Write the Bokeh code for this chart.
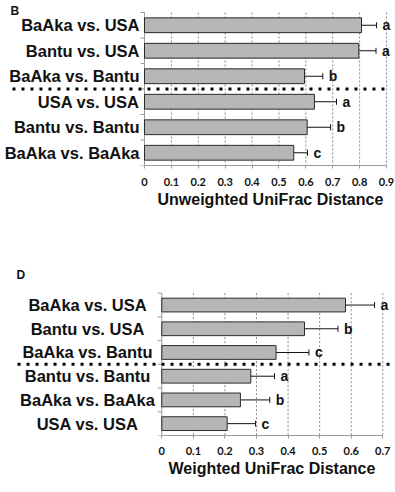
from bokeh.plotting import figure
from bokeh.layouts import column
from bokeh.models import Range1d, FixedTicker, Whisker, TeeHead, ColumnDataSource, Title
from bokeh.core.properties import value
from bokeh.embed import file_html
from bokeh.resources import INLINE

# ---- Panel B data ----
cats_b = ["BaAka vs. USA", "Bantu vs. USA", "BaAka vs. Bantu",
          "USA vs. USA", "Bantu vs. Bantu", "BaAka vs. BaAka"]
vals_b = [0.807, 0.797, 0.595, 0.632, 0.605, 0.555]
errs_b = [0.056, 0.064, 0.068, 0.082, 0.087, 0.051]
letters_b = ["a", "a", "b", "a", "b", "c"]
ticks_b = [0, 0.1, 0.2, 0.3, 0.4, 0.5, 0.6, 0.7, 0.8, 0.9]
tick_labels_b = ["0", "0.1", "0.2", "0.3", "0.4", "0.5", "0.6", "0.7", "0.8", "0.9"]
xlabel_b = "Unweighted UniFrac Distance"

# ---- Panel D data ----
cats_d = ["BaAka vs. USA", "Bantu vs. USA", "BaAka vs. Bantu",
          "Bantu vs. Bantu", "BaAka vs. BaAka", "USA vs. USA"]
vals_d = [0.582, 0.452, 0.362, 0.282, 0.249, 0.207]
errs_d = [0.092, 0.106, 0.104, 0.075, 0.093, 0.090]
letters_d = ["a", "b", "c", "a", "b", "c"]
ticks_d = [0, 0.1, 0.2, 0.3, 0.4, 0.5, 0.6, 0.7]
tick_labels_d = ["0", "0.1", "0.2", "0.3", "0.4", "0.5", "0.6", "0.7"]
xlabel_d = "Weighted UniFrac Distance"

n_between = 3  # first three rows: between-group comparisons

FONT = value("Liberation Sans")
TXT = "#111111"


def panel(tag, cats, vals, errs, letters, ticks, tick_labels, xlabel,
          height, xr, yr, b_top, b_bottom, px_per_unit, label_mode,
          label_x, dot_x0, dot_x1, tag_x, tag_y, tick_standoff, title_offset,
          title_standoff):
    n = len(cats)
    pos = [i + 0.5 for i in range(n)]
    hi = [v + e for v, e in zip(vals, errs)]
    src = ColumnDataSource(dict(y=pos, val=vals, hi=hi, lab=letters, cat=cats))

    p = figure(width=395, height=height, x_range=Range1d(*xr), y_range=Range1d(*yr),
               output_backend="svg", toolbar_location=None, y_axis_location=None,
               min_border_left=0, min_border_right=0,
               min_border_top=b_top, min_border_bottom=b_bottom)
    p.grid.visible = False
    p.outline_line_color = None
    p.background_fill_color = "white"
    p.border_fill_color = "white"

    # dashed vertical grid lines at tick positions
    gx = ticks[1:]
    p.segment(x0=gx, x1=gx, y0=[0] * len(gx), y1=[n] * len(gx),
              line_color="#8a8a8a", line_width=1, line_dash="2 2")

    # y axis line and tick marks between categories
    p.segment(x0=[0], x1=[0], y0=[0], y1=[n], line_color="#9a9a9a", line_width=1)
    tl = 4.0 / px_per_unit
    p.segment(x0=[-tl] * (n + 1), x1=[0] * (n + 1), y0=list(range(n + 1)),
              y1=list(range(n + 1)), line_color="#9a9a9a", line_width=1)

    # bars
    p.hbar(y="y", left=0, right="val", height=0.58, source=src,
           fill_color="#b6b6b6", line_color="#2a2a2a", line_width=1)

    # error bars
    p.add_layout(Whisker(source=src, base="y", lower="val", upper="hi",
                         dimension="width", line_color="#111111", line_width=1,
                         upper_head=TeeHead(size=6, line_color="#111111", line_width=1),
                         lower_head=None))

    # significance letters
    p.text(x="hi", y="y", text="lab", source=src, x_offset=6,
           text_font=FONT, text_font_style="bold", text_font_size="14px",
           text_color=TXT, text_baseline="middle", text_align="left")

    # category labels
    if label_mode == "right":
        p.text(x=[label_x] * n, y=pos, text=cats, x_offset=-5,
               text_font=FONT, text_font_style="bold", text_font_size="16.5px",
               text_color=TXT, text_baseline="middle", text_align="right")
    else:
        p.text(x=[label_x] * n, y=pos, text=cats,
               text_font=FONT, text_font_style="bold", text_font_size="16.5px",
               text_color=TXT, text_baseline="middle", text_align="center")

    # dotted separator
    p.segment(x0=[dot_x0], x1=[dot_x1], y0=[n_between], y1=[n_between],
              line_color="black", line_width=3, line_dash="3 6")

    # panel tag
    p.text(x=[tag_x], y=[tag_y], text=[tag], text_font=FONT, text_font_style="bold",
           text_font_size="12px", text_color=TXT, text_baseline="top", text_align="left")

    # x axis
    ax = p.xaxis[0]
    ax.ticker = FixedTicker(ticks=ticks, minor_ticks=[])
    ax.major_label_overrides = dict(zip(ticks, tick_labels))
    ax.bounds = (ticks[0], ticks[-1])
    ax.axis_line_color = "#9a9a9a"
    ax.major_tick_line_color = "#9a9a9a"
    ax.major_tick_in = 0
    ax.major_tick_out = 3
    ax.minor_tick_line_color = None
    ax.major_label_standoff = tick_standoff
    ax.major_label_text_font = "Lato"
    ax.major_label_text_font_style = "bold"
    ax.major_label_text_font_size = "11px"
    ax.major_label_text_color = TXT

    # axis title, placed under the plotted scale
    p.add_layout(Title(text=xlabel, align="left", offset=title_offset,
                       standoff=title_standoff,
                       text_font="Liberation Sans", text_font_style="bold",
                       text_font_size="16px", text_color=TXT), "below")
    return p


pb = panel("B", cats_b, vals_b, errs_b, letters_b, ticks_b, tick_labels_b, xlabel_b,
           height=215, xr=(-0.5355, 0.9334), yr=(6, -0.4706), b_top=0, b_bottom=50,
           px_per_unit=268.9, label_mode="right", label_x=0,
           dot_x0=-0.491, dot_x1=0.915, tag_x=-0.4983, tag_y=-0.314,
           tick_standoff=9, title_offset=157, title_standoff=0)

pd_ = panel("D", cats_d, vals_d, errs_d, letters_d, ticks_d, tick_labels_d, xlabel_d,
            height=277, xr=(-0.511, 0.7403), yr=(6, -1.294), b_top=47, b_bottom=57,
            px_per_unit=315.7, label_mode="center", label_x=-0.2353,
            dot_x0=-0.457, dot_x1=0.7334, tag_x=-0.4603, tag_y=-1.083,
            tick_standoff=8, title_offset=168, title_standoff=0)

layout = column(pb, pd_, spacing=0)
open("out.html", "w").write(file_html(layout, INLINE))
